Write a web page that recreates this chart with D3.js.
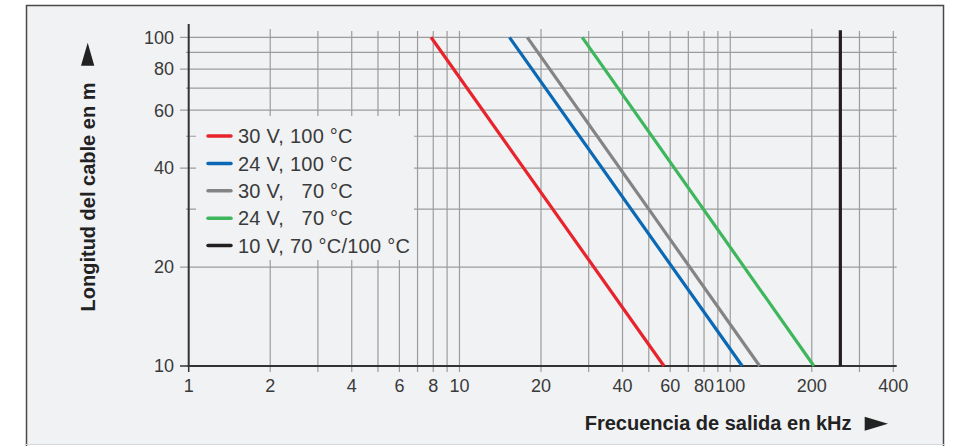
<!DOCTYPE html>
<html>
<head>
<meta charset="utf-8">
<script src="https://cdn.jsdelivr.net/npm/d3@7"></script>
<style>
  html, body { margin: 0; padding: 0; background: #ffffff; }
  svg { display: block; font-family: "Liberation Sans", Arial, Helvetica, sans-serif; }
</style>
</head>
<body>
<svg id="chart" width="958" height="446"></svg>
<script>
// ---- data ----
const seriesNames = ["30 V, 100 °C", "24 V, 100 °C", "30 V,   70 °C", "24 V,   70 °C", "10 V, 70 °C/100 °C"];
const seriesColors = ["#e8232b", "#0a68b4", "#848484", "#3db65c", "#231f20"];
// each series: [frequency kHz, cable length m]
const red30v100 = [[7.85, 100], [56.9, 10]];
const blue24v100 = [[15.3, 100], [110.7, 10]];
const gray30v70 = [[17.8, 100], [128.4, 10]];
const green24v70 = [[28.4, 100], [203.7, 10]];
const black10v = [[255, 10], [255, 105]];
const xTickLabels = [1, 2, 4, 6, 8, 10, 20, 40, 60, 80, 100, 200, 400];
const xGridValues = [2, 3, 4, 5, 6, 7, 8, 9, 10, 20, 30, 40, 50, 60, 70, 80, 90, 100, 200, 300, 400];
const yTickLabels = [10, 20, 40, 60, 80, 100];
const yGridValues = [20, 30, 40, 50, 60, 70, 80, 90, 100];
const xTitle = "Frecuencia de salida en kHz";
const yTitle = "Longitud del cable en m";

// ---- layout ----
const svg = d3.select("#chart");
const x = d3.scaleLog().domain([1, 400]).range([188.7, 893.3]);
const y = d3.scaleLog().domain([10, 100]).range([366, 37.3]);
const bg = "#f1f2f4";
const gridColor = "#9c9c9c";
const textColor = "#3a3a3a";

// frame
svg.append("rect").attr("x", 26).attr("y", 5).attr("width", 918).attr("height", 440).attr("fill", bg);
svg.append("path").attr("d", "M26.5,446 V5.5 H943.5 V446").attr("fill", "none").attr("stroke", "#4a4a4a").attr("stroke-width", 1.5);
svg.append("line").attr("x1", 26).attr("x2", 944).attr("y1", 444.5).attr("y2", 444.5).attr("stroke", "#d8d8d8").attr("stroke-width", 1);

const plotRight = 896.7;

// horizontal grid
yGridValues.forEach(v => {
  const major = yTickLabels.includes(v);
  svg.append("line")
    .attr("x1", major ? 180 : 186).attr("x2", plotRight)
    .attr("y1", y(v)).attr("y2", y(v))
    .attr("stroke", gridColor).attr("stroke-width", 1.2);
});
// vertical grid
xGridValues.forEach(v => {
  const top = [2, 20, 200].includes(v) ? 29 : 31;
  svg.append("line")
    .attr("x1", x(v)).attr("x2", x(v))
    .attr("y1", top).attr("y2", 372)
    .attr("stroke", gridColor).attr("stroke-width", 1.2);
});
// tick stubs for 10 and 1
svg.append("line").attr("x1", 180).attr("x2", 188.7).attr("y1", y(10)).attr("y2", y(10)).attr("stroke", "#333").attr("stroke-width", 1.5);
svg.append("line").attr("x1", x(1)).attr("x2", x(1)).attr("y1", 366).attr("y2", 372).attr("stroke", "#333").attr("stroke-width", 1.5);

// legend background hides grid
svg.append("rect").attr("x", 196).attr("y", 116).attr("width", 218).attr("height", 144).attr("fill", bg);

// axes
svg.append("line").attr("x1", x(1)).attr("x2", x(1)).attr("y1", 24).attr("y2", 367).attr("stroke", "#333").attr("stroke-width", 2);
svg.append("line").attr("x1", x(1) - 1).attr("x2", plotRight).attr("y1", y(10)).attr("y2", y(10)).attr("stroke", "#333").attr("stroke-width", 2);

// series lines
const lineGen = d3.line().x(d => x(d[0])).y(d => y(d[1]));
const allSeries = [red30v100, blue24v100, gray30v70, green24v70, black10v];
allSeries.forEach((s, i) => {
  svg.append("path").attr("d", lineGen(s)).attr("fill", "none")
    .attr("stroke", seriesColors[i]).attr("stroke-width", 3.2);
});

// tick labels
svg.append("g").selectAll("text").data(yTickLabels).join("text")
  .attr("x", 174).attr("y", d => y(d)).attr("dy", "0.35em")
  .attr("text-anchor", "end").attr("font-size", 18).attr("fill", textColor)
  .text(d => d);
svg.append("g").selectAll("text").data(xTickLabels).join("text")
  .attr("x", d => x(d)).attr("y", 392)
  .attr("text-anchor", "middle").attr("font-size", 18).attr("fill", textColor)
  .text(d => d);

// legend
const lg = svg.append("g");
seriesNames.forEach((lab, i) => {
  const ly = 136 + i * 27.4;
  lg.append("line").attr("x1", 208).attr("x2", 231).attr("y1", ly).attr("y2", ly)
    .attr("stroke", seriesColors[i]).attr("stroke-width", 3.5).attr("stroke-linecap", "round");
  lg.append("text").attr("x", 238).attr("y", ly).attr("dy", "0.36em")
    .attr("font-size", 20).attr("letter-spacing", 0.25).attr("fill", textColor)
    .style("white-space", "pre")
    .text(lab);
});

// axis titles
svg.append("text").attr("x", 584.7).attr("y", 429.5)
  .attr("font-size", 20).attr("font-weight", "bold").attr("fill", "#222")
  .text(xTitle);
svg.append("path").attr("d", "M864.7,416.7 L888,423.7 L864.7,430.7 Z").attr("fill", "#222");

svg.append("text").attr("transform", "translate(95,197) rotate(-90)")
  .attr("text-anchor", "middle")
  .attr("font-size", 20).attr("font-weight", "bold").attr("fill", "#222")
  .text(yTitle);
svg.append("path").attr("d", "M81,65.7 L87.7,42.7 L94.3,65.7 Z").attr("fill", "#222");
</script>
</body>
</html>
